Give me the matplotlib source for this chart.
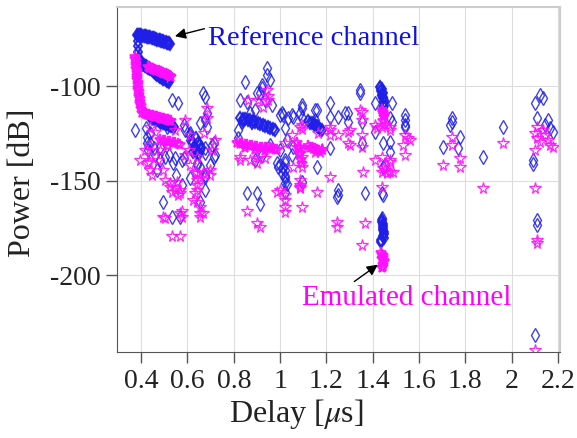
import matplotlib
matplotlib.use("Agg")
import matplotlib.pyplot as plt

plt.rcParams['font.family'] = ['Liberation Serif', 'DejaVu Serif']
plt.rcParams['mathtext.fontset'] = 'stix'
plt.rcParams['axes.unicode_minus'] = False

# dense traces of the reference channel (diamonds)
ref_trace_delay = [0.383, 0.387, 0.39, 0.395, 0.40, 0.405, 0.41, 0.415, 0.42, 0.425, 0.43, 0.435, 0.44, 0.445, 0.45,
                   0.455, 0.46, 0.465, 0.47, 0.475, 0.48, 0.485, 0.49, 0.495, 0.50, 0.505, 0.51, 0.515, 0.52, 0.525,
                   0.385, 0.386, 0.388, 0.39, 0.395, 0.40,
                   0.405, 0.41, 0.415, 0.42, 0.425, 0.43, 0.435, 0.44, 0.445, 0.45, 0.455, 0.46, 0.465, 0.47, 0.475,
                   0.48, 0.485, 0.49, 0.495, 0.50, 0.505, 0.51, 0.515, 0.52,
                   0.44, 0.445, 0.45, 0.455, 0.46, 0.465, 0.47, 0.475, 0.48, 0.485, 0.49, 0.495, 0.50, 0.505, 0.51,
                   0.515, 0.52, 0.525, 0.53, 0.535, 0.54,
                   0.612, 0.62, 0.63, 0.64, 0.65, 0.66, 0.625, 0.645, 0.635, 0.655,
                   0.827, 0.838, 0.849, 0.86, 0.871, 0.882, 0.892, 0.903, 0.914, 0.925, 0.935, 0.946, 0.957, 0.968,
                   0.979, 0.840, 0.879,
                   1.121, 1.13, 1.138, 1.145, 1.151, 1.158, 1.164, 1.173, 1.182,
                   1.432, 1.436, 1.441, 1.445, 1.449, 1.449, 1.441, 1.445,
                   1.441, 1.441, 1.443, 1.445, 1.445, 1.445, 1.447, 1.449, 1.445, 1.449, 1.436, 1.438]
ref_trace_power = [-73.0, -73.0, -73.0, -73.1, -73.2, -73.3, -73.4, -73.5, -73.6, -73.8, -74.0, -74.1, -74.3, -74.5, -74.6,
                   -74.8, -75.0, -75.2, -75.4, -75.6, -75.8, -76.0, -76.2, -76.4, -76.6, -76.8, -77.0, -77.2, -77.4, -77.8,
                   -76.0, -79.0, -82.0, -85.0, -87.0, -88.5,
                   -88.8, -89.0, -89.2, -89.5, -89.8, -90.2, -90.6, -91.0, -91.5, -92.0, -92.5, -93.0, -93.5, -94.0, -94.5,
                   -95.0, -95.4, -95.8, -96.2, -96.5, -96.9, -97.2, -97.5, -97.8,
                   -116.5, -116.8, -117.0, -117.3, -117.5, -117.8, -118.0, -118.3, -118.5, -118.8, -119.0, -119.3, -119.5,
                   -119.8, -120.0, -120.3, -120.5, -120.8, -121.0, -121.3, -121.5,
                   -126.0, -129.0, -132.0, -134.0, -136.0, -133.0, -135.0, -130.0, -127.5, -131.0,
                   -116.9, -117.3, -117.5, -117.9, -118.0, -118.6, -119.0, -119.5, -120.1, -120.6, -121.2, -121.6, -122.2,
                   -122.7, -123.3, -118.5, -119.6,
                   -118.5, -119.5, -119.6, -120.0, -120.6, -121.2, -121.7, -122.8, -123.3,
                   -100.5, -102.5, -104.5, -106.5, -108.5, -110.5, -101.5, -103.5,
                   -170.9, -172.0, -173.0, -174.0, -175.1, -176.2, -177.2, -178.3, -179.4, -180.5, -181.5, -182.5]

# scattered reference-channel taps
ref_delay = [0.534, 0.560, 0.668, 0.676, 0.685, 0.655, 0.685, 0.707, 0.720, 0.426, 0.439, 0.430, 0.460, 0.482,
             0.504, 0.538, 0.577, 0.642, 0.655, 0.482, 0.512, 0.590, 0.612, 0.495, 0.534, 0.568, 0.655, 0.676,
             0.577, 0.612, 0.633, 0.698, 0.469, 0.676, 0.422, 0.551, 0.374, 0.655, 0.676,
             0.676, 0.586, 0.612, 0.715, 0.715, 0.676, 0.439, 0.426, 0.456, 0.482, 0.521, 0.547, 0.586, 0.642, 0.676,
             0.849, 0.944, 0.944, 0.922, 0.957, 0.827, 0.858, 0.901, 0.892, 0.935, 0.966, 1.009, 1.035, 1.022,
             1.030, 1.000, 0.987, 1.009, 1.022, 0.858, 0.901, 0.914, 0.892, 0.922, 1.000, 0.957, 1.022,
             0.922, 0.914, 0.836, 0.819, 0.819, 0.871, 1.087, 1.013, 1.052, 1.160, 1.151, 1.281, 1.216, 1.052,
             1.022, 0.992, 1.022, 1.246,
             1.000, 1.056, 1.095, 1.095, 1.095, 1.151, 1.216, 1.216, 1.251, 1.294, 1.294, 1.056, 1.022, 1.013,
             1.022, 1.030, 1.022, 1.160, 1.095, 1.251, 1.251, 1.367, 1.445, 1.346, 1.346, 1.354, 1.354, 1.410,
             1.432, 1.441, 1.445, 1.445, 1.445, 1.436, 1.449, 1.484, 1.475, 1.475, 1.445, 1.445, 1.454, 1.540,
             1.540, 1.540, 1.410, 1.484, 1.540, 1.475, 1.441, 1.441,
             1.743, 1.743, 1.734, 1.777, 1.704, 1.769, 1.877, 1.963, 2.101, 2.123, 2.136, 2.110, 2.157, 2.166,
             2.144, 2.179, 2.093, 2.093, 2.110, 2.110, 2.101]
ref_power = [-107.4, -109.0, -103.7, -105.8, -114.3, -119.6, -121.7, -131.2, -136.5, -127.0, -130.2, -133.9, -136.5, -139.2,
             -137.6, -140.7, -139.2, -140.7, -142.9, -119.0, -121.7, -123.3, -128.6, -161.4, -169.3, -169.3, -161.4, -155.0,
             -152.4, -148.7, -133.9, -141.8, -144.4, -147.1, -122.2, -147.1, -123.3, -133.9, -132.8,
             -118.0, -120.6, -124.9, -130.2, -137.6, -135.4, -124.9, -130.2, -132.8, -132.3, -136.5, -138.1, -138.1, -141.8, -148.1,
             -97.9, -90.5, -94.2, -101.1, -96.8, -107.4, -108.5, -103.7, -112.7, -107.4, -110.1, -114.3, -116.9, -122.2,
             -128.6, -141.8, -140.7, -146.0, -148.7, -156.6, -156.6, -162.4, -139.2, -136.5, -133.9, -131.2, -151.3,
             -99.5, -103.7, -119.0, -123.3, -127.5, -114.3, -114.3, -115.3, -115.3, -112.7, -118.0, -114.3, -132.8, -136.5,
             -139.2, -142.9, -144.4, -158.7,
             -115.3, -116.4, -110.1, -111.6, -116.9, -112.7, -109.0, -116.4, -116.4, -114.3, -119.0, -132.3, -140.7, -143.4,
             -147.6, -151.9, -156.1, -142.9, -150.8, -155.0, -157.7, -156.6, -157.7, -102.1, -103.7, -119.0, -130.2, -109.0,
             -101.1, -103.2, -105.8, -108.5, -111.1, -104.8, -107.4, -109.0, -116.9, -129.6, -130.2, -142.9, -141.8, -115.3,
             -118.0, -120.6, -124.3, -119.0, -121.7, -134.9, -156.6, -169.9,
             -116.9, -119.0, -120.6, -127.0, -132.3, -132.8, -137.6, -121.7, -109.0, -104.8, -106.3, -116.9, -118.0, -122.2,
             -120.6, -124.3, -139.2, -141.3, -170.9, -173.5, -231.7]

# dense traces of the emulated channel (stars)
emu_trace_delay = [0.374, 0.375, 0.376, 0.377, 0.378, 0.379, 0.38, 0.381, 0.382, 0.383, 0.384, 0.385, 0.386, 0.387,
                   0.388, 0.389, 0.39, 0.392, 0.393, 0.395, 0.396, 0.398, 0.40, 0.405, 0.41,
                   0.415, 0.42, 0.425, 0.43, 0.435, 0.44, 0.445, 0.45, 0.455, 0.46, 0.465, 0.47, 0.475, 0.48, 0.485,
                   0.49, 0.495, 0.50, 0.505, 0.51, 0.515, 0.52, 0.525, 0.53,
                   0.43, 0.435, 0.44, 0.445, 0.45, 0.455, 0.46, 0.465, 0.47, 0.475, 0.48, 0.485, 0.49, 0.495, 0.50,
                   0.505, 0.51, 0.515, 0.52, 0.525, 0.53,
                   0.482, 0.493, 0.504, 0.515, 0.525, 0.536, 0.547, 0.558, 0.568, 0.517,
                   0.815, 0.826, 0.836, 0.847, 0.858, 0.869, 0.879, 0.89, 0.901, 0.912, 0.922, 0.933, 0.944, 0.955,
                   0.966, 0.977, 0.987, 0.849, 0.892, 0.935,
                   1.074, 1.08, 1.087, 1.09, 1.095,
                   1.121, 1.13, 1.14, 1.15, 1.16, 1.17, 1.18,
                   1.441, 1.443, 1.445, 1.447, 1.449, 1.445, 1.454,
                   1.436, 1.440, 1.445, 1.443, 1.441, 1.447, 1.449, 1.445, 1.443, 1.441]
emu_trace_power = [-84.5, -85.8, -87.0, -88.3, -89.5, -90.8, -92.0, -93.3, -94.5, -95.8, -97.0, -98.3, -99.5, -100.8,
                   -102.0, -103.3, -104.5, -105.8, -107.0, -108.3, -109.5, -110.8, -112.0, -114.0, -114.5,
                   -114.8, -115.0, -115.2, -115.3, -115.5, -115.6, -115.8, -116.0, -116.2, -116.3, -116.5, -116.6, -116.8,
                   -117.0, -117.2, -117.3, -117.5, -117.6, -117.8, -118.0, -118.2, -118.3, -118.5, -118.6,
                   -90.0, -90.3, -90.5, -90.8, -91.0, -91.3, -91.5, -91.8, -92.0, -92.3, -92.5, -92.8, -93.0, -93.3, -93.5,
                   -93.8, -94.0, -94.3, -94.5, -94.8, -95.0,
                   -128.6, -128.9, -129.1, -129.4, -129.6, -129.9, -130.2, -130.7, -131.2, -131.7,
                   -130.2, -130.5, -130.7, -131.0, -131.2, -131.5, -131.7, -132.0, -132.3, -132.5, -132.8, -132.8, -132.8,
                   -133.0, -133.3, -133.6, -133.9, -132.8, -133.9, -134.5,
                   -130.0, -133.0, -136.0, -139.0, -141.0,
                   -131.5, -132.5, -133.0, -133.5, -134.0, -134.5, -134.0,
                   -112.7, -113.5, -114.3, -115.3, -116.4, -118.5, -120.6,
                   -188.4, -189.2, -189.9, -190.7, -191.5, -192.3, -193.1, -194.7, -195.5, -196.3]

# scattered emulated-channel taps
emu_delay = [0.426, 0.447, 0.495, 0.525, 0.555, 0.642, 0.668, 0.698, 0.655, 0.439, 0.460, 0.685, 0.685, 0.417,
             0.396, 0.473, 0.590, 0.612, 0.633, 0.504, 0.525, 0.547, 0.568, 0.534, 0.560, 0.642, 0.642, 0.642,
             0.633, 0.625, 0.655, 0.655, 0.668, 0.495, 0.534, 0.568, 0.568, 0.577, 0.707, 0.720, 0.612, 0.590,
             0.547, 0.482, 0.439,
             0.439, 0.435, 0.568, 0.504, 0.577, 0.642, 0.655, 0.607, 0.672, 0.698, 0.642, 0.439,
             0.827, 0.901, 0.871, 0.935, 0.858, 0.901, 0.914, 0.862, 0.944, 0.948, 0.927, 1.052, 1.074, 0.987,
             1.000, 1.022, 1.022, 1.022, 1.022, 1.087, 1.095, 1.160,
             0.905, 0.948, 0.827, 0.905, 1.095, 1.164, 1.216, 1.095,
             1.087, 1.095, 1.087, 1.087, 1.087, 1.095, 1.143, 1.160, 1.173, 1.182, 1.151, 1.216, 1.216, 1.251,
             1.294, 1.294, 1.346, 1.354, 1.354, 1.354, 1.359, 1.216, 1.087, 1.087, 1.087, 1.022, 1.056,
             1.475, 1.419, 1.410, 1.445, 1.454, 1.462, 1.475, 1.488, 1.441, 1.540, 1.553, 1.531, 1.540,
             1.354, 1.302, 1.302, 1.410, 1.441, 1.475, 1.561, 1.441, 1.475, 1.441, 1.475,
             1.246, 1.246, 1.367, 1.354,
             1.743, 1.743, 1.777, 1.777, 1.704, 1.963, 1.877,
             2.101, 2.110, 2.123, 2.136, 2.144, 2.157, 2.166, 2.179, 2.101, 2.110, 2.101, 2.110, 2.110, 2.101]
emu_power = [-140.7, -147.1, -144.4, -153.4, -150.8, -137.6, -146.0, -144.4, -148.7, -121.7, -124.3, -111.6, -116.9, -133.9,
             -139.2, -139.2, -136.5, -141.8, -145.5, -149.7, -151.3, -154.0, -155.0, -156.1, -157.7, -149.7, -152.4, -155.0,
             -156.6, -160.3, -164.0, -169.3, -167.2, -169.3, -179.5, -179.5, -167.2, -166.1, -133.9, -128.6, -125.9, -118.0,
             -123.3, -133.9, -136.5,
             -144.4, -140.2, -156.6, -169.8, -169.3, -161.4, -167.2, -133.9, -124.9, -147.1, -146.0, -131.2,
             -137.6, -140.7, -139.2, -138.1, -166.1, -172.5, -174.6, -107.4, -102.1, -107.4, -111.1, -125.9, -132.3, -156.1,
             -155.0, -157.7, -160.3, -164.0, -166.7, -153.4, -164.0, -156.1,
             -107.4, -105.3, -139.2, -138.1, -120.6, -124.9, -121.7, -142.9,
             -121.7, -122.8, -132.3, -133.9, -135.4, -137.6, -132.8, -133.9, -134.9, -133.3, -134.9, -123.3, -125.9, -125.9,
             -124.3, -130.2, -112.7, -118.0, -125.9, -132.3, -145.5, -148.1, -149.7, -152.4, -154.0, -130.2, -142.9,
             -121.7, -122.2, -139.2, -143.4, -144.4, -146.0, -140.2, -145.5, -153.4, -125.9, -127.5, -131.2, -136.5,
             -113.8, -123.3, -131.2, -120.6, -121.7, -123.3, -128.6, -137.6, -139.2, -145.5, -145.5,
             -172.0, -174.6, -172.5, -184.1,
             -127.0, -131.2, -138.1, -142.9, -141.8, -130.2, -154.0,
             -124.9, -127.5, -129.6, -123.3, -125.9, -128.6, -131.2, -132.3, -133.9, -121.7, -154.0, -181.5, -183.1, -239.7]

x_ticks = [0.4, 0.6, 0.8, 1.0, 1.2, 1.4, 1.6, 1.8, 2.0, 2.2]
x_tick_labels = ["0.4", "0.6", "0.8", "1", "1.2", "1.4", "1.6", "1.8", "2", "2.2"]
y_ticks = [-200, -150, -100]

blue = '#1f1fe8'
magenta = '#ff10ff'

fig = plt.figure(figsize=(5.77, 4.38), dpi=100)
ax = fig.add_axes([0.203, 0.196, 0.767, 0.788])

diamond = dict(linestyle='none', marker='d', markersize=7.5, markerfacecolor='none',
               markeredgecolor=blue, markeredgewidth=1.0, alpha=0.85)
star = dict(linestyle='none', marker='*', markersize=8.5, markerfacecolor='none',
            markeredgecolor=magenta, markeredgewidth=0.9, alpha=0.9)

ax.plot(ref_delay, ref_power, **diamond)
ax.plot(ref_trace_delay, ref_trace_power, **dict(diamond, markersize=6.5, markeredgewidth=1.4, alpha=0.95))
ax.plot(emu_delay, emu_power, **star)
ax.plot(emu_trace_delay, emu_trace_power, **dict(star, markersize=8, markeredgewidth=1.3, alpha=0.95))

ax.set_xlim(0.296, 2.208)
ax.set_ylim(-240.7, -58.2)
ax.set_xticks(x_ticks)
ax.set_xticklabels(x_tick_labels)
ax.set_yticks(y_ticks)
ax.grid(True, color='#dddddd', linewidth=0.8)
ax.set_axisbelow(True)
ax.tick_params(direction='out', length=8, width=1, colors='#555555', labelcolor='#222222',
               labelsize=20, pad=4)
for side in ['top', 'right']:
    ax.spines[side].set_color('#cccccc')
    ax.spines[side].set_linewidth(1.5)
for side in ['left', 'bottom']:
    ax.spines[side].set_color('#555555')

ax.set_xlabel(r'Delay [$\mu$s]', fontsize=23, color='#222222')
ax.set_ylabel('Power [dB]', fontsize=23, color='#222222')
ax.xaxis.set_label_coords(0.404, -0.13)
ax.yaxis.set_label_coords(-0.181, 0.49)

ax.text(0.689, -78.3, 'Reference channel', color='#1010e0', fontsize=20.5, va='baseline')
ax.annotate('', xy=(0.534, -74.0), xytext=(0.685, -69.3),
            arrowprops=dict(arrowstyle='-|>', color='k', lw=1, mutation_scale=16))
ax.text(1.095, -215.9, 'Emulated channel', color='#ff00ff', fontsize=21, va='baseline')
ax.annotate('', xy=(1.432, -193.6), xytext=(1.311, -204.2),
            arrowprops=dict(arrowstyle='-|>', color='k', lw=1, mutation_scale=16))

fig.savefig('out.png', dpi=100)
